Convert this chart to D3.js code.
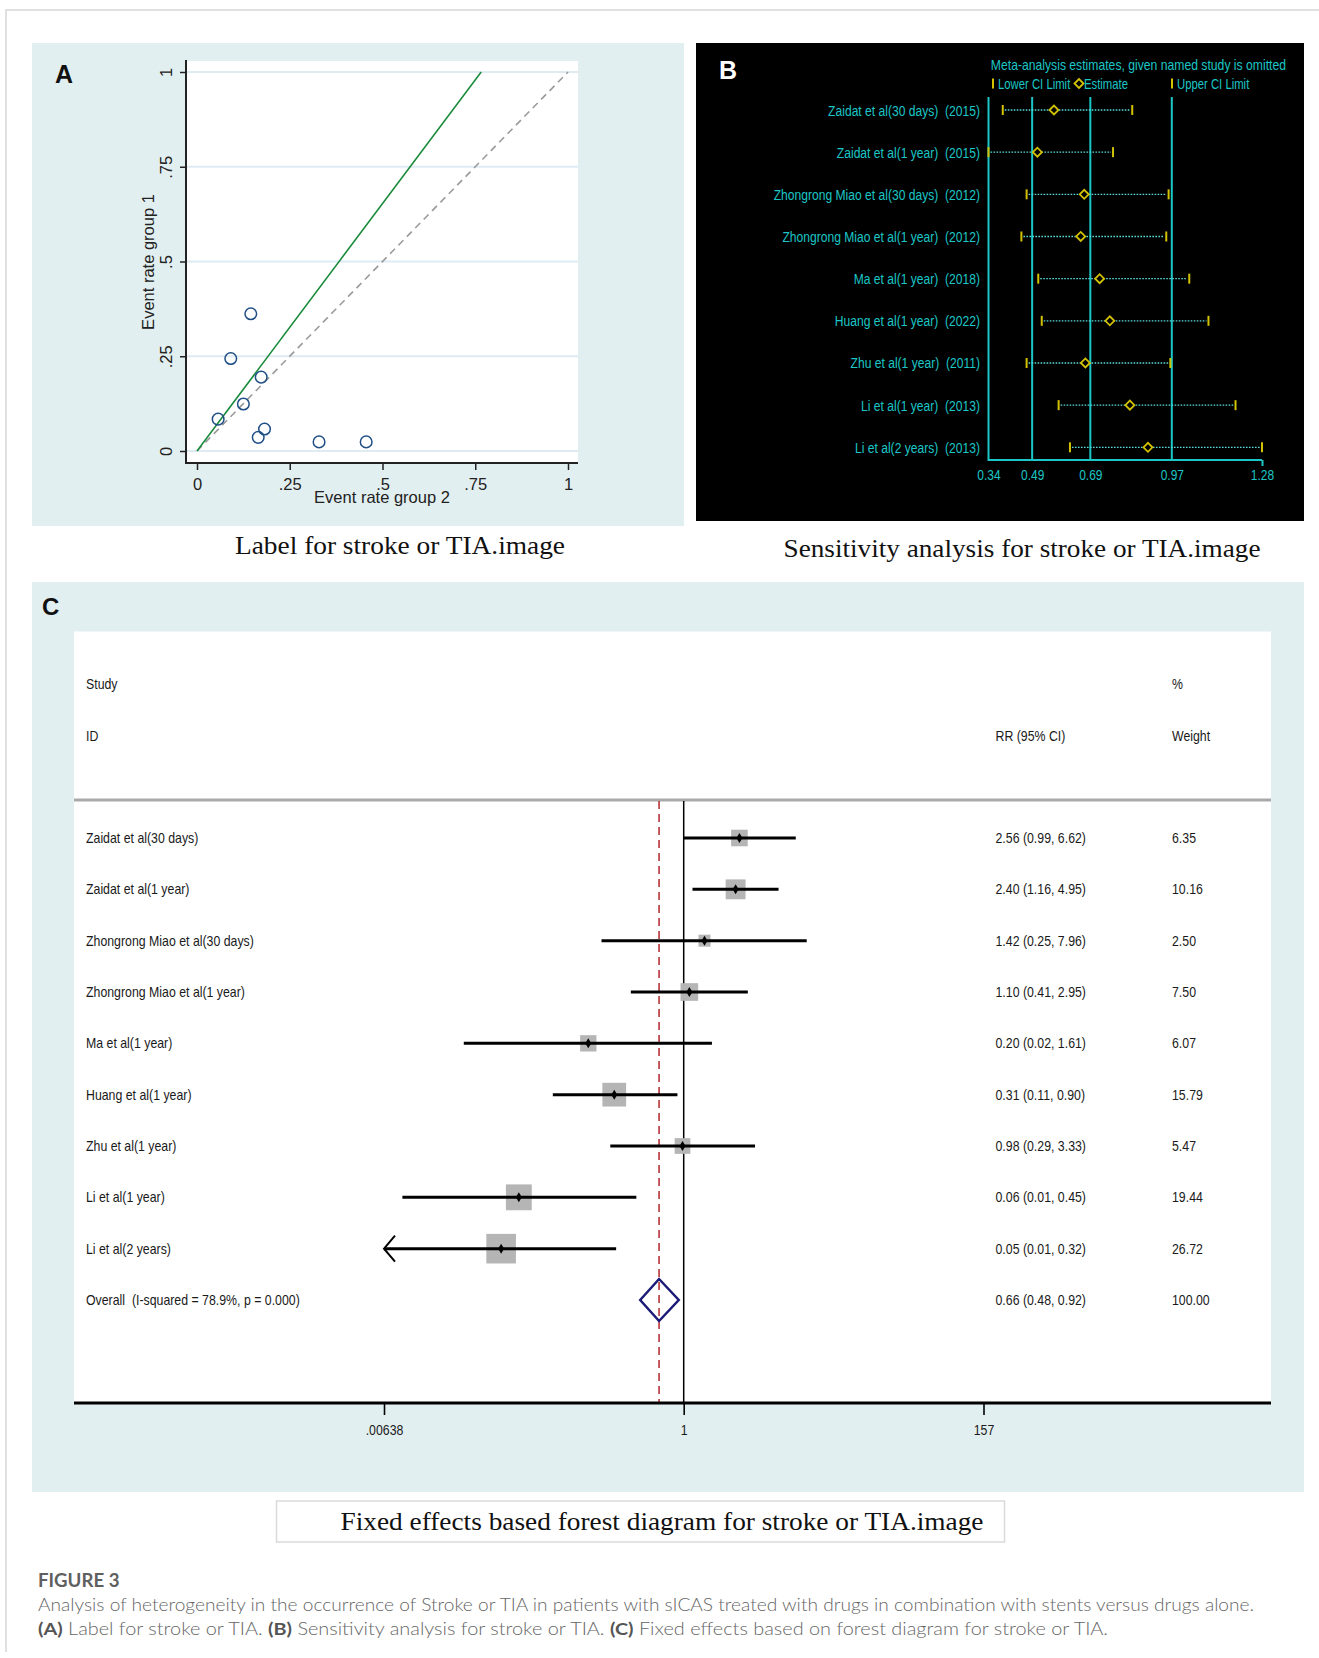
<!DOCTYPE html>
<html><head><meta charset="utf-8">
<script src="https://cdn.jsdelivr.net/npm/d3@7"></script>
<style>body{margin:0;background:#fff}svg{display:block}</style>
</head><body>
<svg id="fig" width="1319" height="1658"></svg>
<script>
// ---------------- DATA ----------------
// Panel A: L'Abbé plot (event rate group 2 on x, group 1 on y)
const labbeGroup2 = [0.145, 0.091, 0.173, 0.125, 0.057, 0.182, 0.165, 0.329, 0.456];
const labbeGroup1 = [0.362, 0.244, 0.195, 0.124, 0.084, 0.058, 0.036, 0.024, 0.024];
const labbeTicks = [0, 0.25, 0.5, 0.75, 1];
const labbeTickLabels = ["0", ".25", ".5", ".75", "1"];
const labbeFitEnd = [0.766, 1.0];      // fitted (pooled) line end point
const labbeNullEnd = [1.0, 1.0];       // line of equality end point

// Panel B: sensitivity analysis (study omitted)
const sensStudies = [
  "Zaidat et al(30 days)  (2015)", "Zaidat et al(1 year)  (2015)",
  "Zhongrong Miao et al(30 days)  (2012)", "Zhongrong Miao et al(1 year)  (2012)",
  "Ma et al(1 year)  (2018)", "Huang et al(1 year)  (2022)", "Zhu et al(1 year)  (2011)",
  "Li et al(1 year)  (2013)", "Li et al(2 years)  (2013)"];
const sensLower    = [0.389, 0.340, 0.471, 0.453, 0.511, 0.523, 0.471, 0.581, 0.620];
const sensEstimate = [0.565, 0.508, 0.669, 0.657, 0.722, 0.757, 0.673, 0.826, 0.888];
const sensUpper    = [0.834, 0.768, 0.959, 0.951, 1.030, 1.096, 0.965, 1.189, 1.280];
const sensTicks = [0.34, 0.49, 0.69, 0.97, 1.28];
const sensTickLabels = ["0.34", "0.49", "0.69", "0.97", "1.28"];
const sensRefLines = [0.34, 0.49, 0.69, 0.97];

// Panel C: fixed-effects forest plot
const forestStudies = ["Zaidat et al(30 days)", "Zaidat et al(1 year)", "Zhongrong Miao et al(30 days)",
  "Zhongrong Miao et al(1 year)", "Ma et al(1 year)", "Huang et al(1 year)", "Zhu et al(1 year)",
  "Li et al(1 year)", "Li et al(2 years)"];
const forestRR    = [2.56, 2.40, 1.42, 1.10, 0.20, 0.31, 0.98, 0.062, 0.046];
const forestLower = [0.99, 1.16, 0.25, 0.41, 0.0245, 0.11, 0.29, 0.0087, 0.0055];
const forestUpper = [6.62, 4.95, 7.96, 2.95, 1.61, 0.90, 3.33, 0.45, 0.32];
const forestCIText = ["2.56 (0.99, 6.62)", "2.40 (1.16, 4.95)", "1.42 (0.25, 7.96)", "1.10 (0.41, 2.95)",
  "0.20 (0.02, 1.61)", "0.31 (0.11, 0.90)", "0.98 (0.29, 3.33)", "0.06 (0.01, 0.45)", "0.05 (0.01, 0.32)"];
const forestWeight = [6.35, 10.16, 2.50, 7.50, 6.07, 15.79, 5.47, 19.44, 26.72];
const overallLabel = "Overall  (I-squared = 78.9%, p = 0.000)";
const overallRR = 0.66, overallLower = 0.48, overallUpper = 0.92;
const overallCIText = "0.66 (0.48, 0.92)";
const overallWeight = "100.00";
const forestTicks = [0.00638, 1, 157];
const forestTickLabels = [".00638", "1", "157"];

// ---------------- DRAWING ----------------
const svg = d3.select("#fig");
const SANS = "'Liberation Sans',Arial,sans-serif";
const NARROW = SANS;
const SERIF = "'Liberation Serif','Times New Roman',serif";
const PANEL_BG = "#e2eff0";
// horizontally condense text to mimic the narrow Stata font
function condense(sel, f) {
  sel.each(function () {
    const w = this.getComputedTextLength();
    d3.select(this).attr("textLength", w * f).attr("lengthAdjust", "spacingAndGlyphs");
  });
}

// outer frame
svg.append("path").attr("d", "M6,1652V10H1319").attr("fill", "none")
  .attr("stroke", "#d6d6d6").attr("stroke-width", 1.5);

// ===== Panel A =====
svg.append("rect").attr("x", 32).attr("y", 43).attr("width", 652).attr("height", 483).attr("fill", PANEL_BG);
svg.append("rect").attr("x", 186).attr("y", 61).attr("width", 392).attr("height", 402).attr("fill", "#fff");
const xA = d3.scaleLinear().domain([0, 1]).range([197, 568]);
const yA = d3.scaleLinear().domain([0, 1]).range([451, 72]);
const gA = svg.append("g");
gA.selectAll("line.grid").data(labbeTicks).join("line").attr("class", "grid")
  .attr("x1", 187).attr("x2", 578).attr("y1", d => yA(d)).attr("y2", d => yA(d))
  .attr("stroke", "#deebf3").attr("stroke-width", 2.2);
gA.append("line").attr("x1", xA(0)).attr("y1", yA(0)).attr("x2", xA(labbeNullEnd[0])).attr("y2", yA(labbeNullEnd[1]))
  .attr("stroke", "#9a9a9a").attr("stroke-width", 1.6).attr("stroke-dasharray", "7,5");
gA.append("line").attr("x1", xA(0)).attr("y1", yA(0)).attr("x2", xA(labbeFitEnd[0])).attr("y2", yA(labbeFitEnd[1]))
  .attr("stroke", "#1a8a3c").attr("stroke-width", 1.6);
gA.selectAll("circle.pt").data(labbeGroup2.map((d, i) => [d, labbeGroup1[i]])).join("circle")
  .attr("class", "pt").attr("cx", d => xA(d[0])).attr("cy", d => yA(d[1])).attr("r", 5.8)
  .attr("fill", "none").attr("stroke", "#1f4f86").attr("stroke-width", 1.5);
const axAL = d3.axisLeft(yA).tickValues(labbeTicks).tickFormat((d, i) => labbeTickLabels[i]).tickSize(6);
const gAL = gA.append("g").attr("transform", "translate(186,0)").call(axAL);
gAL.select(".domain").remove();
gAL.selectAll(".tick line").attr("stroke", "#222").attr("stroke-width", 1.5);
gAL.selectAll(".tick text").attr("transform", "rotate(-90)").attr("x", 0).attr("y", -14).attr("dy", 0)
  .attr("text-anchor", "middle").attr("font-family", SANS).attr("font-size", 16.5).attr("fill", "#222");
const axAB = d3.axisBottom(xA).tickValues(labbeTicks).tickFormat((d, i) => labbeTickLabels[i]).tickSize(7);
const gAB = gA.append("g").attr("transform", "translate(0,463)").call(axAB);
gAB.select(".domain").remove();
gAB.selectAll(".tick line").attr("stroke", "#222").attr("stroke-width", 1.5);
gAB.selectAll(".tick text").attr("y", 27).attr("dy", 0).attr("font-family", SANS).attr("font-size", 16.5).attr("fill", "#222");
gA.append("line").attr("x1", 186).attr("x2", 186).attr("y1", 60).attr("y2", 464).attr("stroke", "#222").attr("stroke-width", 2);
gA.append("line").attr("x1", 185).attr("x2", 578).attr("y1", 463).attr("y2", 463).attr("stroke", "#222").attr("stroke-width", 2);
gA.append("text").attr("transform", "translate(154,262) rotate(-90)").attr("text-anchor", "middle")
  .attr("font-family", SANS).attr("font-size", 16.5).attr("fill", "#222").text("Event rate group 1");
gA.append("text").attr("x", 382).attr("y", 503).attr("text-anchor", "middle")
  .attr("font-family", SANS).attr("font-size", 16.5).attr("fill", "#222").text("Event rate group 2");
gA.append("text").attr("x", 55).attr("y", 83).attr("font-family", SANS).attr("font-weight", "bold")
  .attr("font-size", 25).attr("fill", "#111").text("A");
svg.append("text").attr("x", 400).attr("y", 554).attr("text-anchor", "middle").attr("font-family", SERIF)
  .attr("font-size", 25).attr("fill", "#111").attr("textLength", 330).attr("lengthAdjust", "spacingAndGlyphs")
  .text("Label for stroke or TIA.image");

// ===== Panel B =====
const CYAN = "#1cc6c6", YEL = "#d2c200";
svg.append("rect").attr("x", 696).attr("y", 43).attr("width", 608).attr("height", 478).attr("fill", "#000");
const xB = d3.scaleLinear().domain([0.34, 1.28]).range([988.5, 1262]);
const yB = d3.scalePoint().domain(d3.range(sensStudies.length)).range([110, 447.3]);
const gB = svg.append("g");
gB.append("text").attr("x", 719).attr("y", 79).attr("font-family", SANS).attr("font-weight", "bold")
  .attr("font-size", 25).attr("fill", "#fff").text("B");
gB.selectAll("line.ref").data(sensRefLines).join("line").attr("class", "ref")
  .attr("x1", d => xB(d)).attr("x2", d => xB(d)).attr("y1", 97).attr("y2", 461)
  .attr("stroke", CYAN).attr("stroke-width", 2);
const axB = d3.axisBottom(xB).tickValues(sensTicks).tickFormat((d, i) => sensTickLabels[i]).tickSize(6);
const gBA = gB.append("g").attr("transform", "translate(0,460)").call(axB);
gBA.select(".domain").attr("stroke", CYAN).attr("stroke-width", 2).attr("d", `M${xB(0.34)},0H${xB(1.28)}`);
gBA.selectAll(".tick line").attr("stroke", CYAN).attr("stroke-width", 2).attr("opacity", (d, i) => i === sensTicks.length - 1 ? 1 : 0);
gBA.selectAll(".tick text").attr("y", 20).attr("dy", 0).attr("font-family", NARROW).attr("font-size", 15).attr("fill", CYAN)
  .call(condense, 0.8);
const rowsB = gB.selectAll("g.row").data(d3.range(sensStudies.length)).join("g").attr("class", "row")
  .attr("transform", i => `translate(0,${yB(i)})`);
rowsB.append("line").attr("x1", i => xB(sensLower[i]) + 2).attr("x2", i => xB(sensUpper[i]) - 2)
  .attr("y1", 0).attr("y2", 0).attr("stroke", "#5cdada").attr("stroke-width", 1.3).attr("stroke-dasharray", "1.6,1.4");
rowsB.append("line").attr("x1", i => xB(sensLower[i])).attr("x2", i => xB(sensLower[i])).attr("y1", -5).attr("y2", 5)
  .attr("stroke", YEL).attr("stroke-width", 2);
rowsB.append("line").attr("x1", i => xB(sensUpper[i])).attr("x2", i => xB(sensUpper[i])).attr("y1", -5).attr("y2", 5)
  .attr("stroke", YEL).attr("stroke-width", 2);
rowsB.append("path").attr("d", i => { const x = xB(sensEstimate[i]); return `M${x - 4.5},0L${x},-4.5L${x + 4.5},0L${x},4.5Z`; })
  .attr("fill", "#000").attr("stroke", YEL).attr("stroke-width", 1.8);
rowsB.append("text").attr("x", 980).attr("y", 5.5).attr("text-anchor", "end").attr("font-family", NARROW)
  .attr("font-size", 15.5).attr("fill", CYAN).style("white-space", "pre")
  .text(i => sensStudies[i]).call(condense, 0.78);
// header / legend
gB.append("text").attr("x", 1286).attr("y", 70).attr("text-anchor", "end").attr("font-family", NARROW)
  .attr("font-size", 14.5).attr("fill", CYAN).text("Meta-analysis estimates, given named study is omitted").call(condense, 0.84);
gB.append("line").attr("x1", 993).attr("x2", 993).attr("y1", 78.5).attr("y2", 88.5).attr("stroke", YEL).attr("stroke-width", 2);
gB.append("text").attr("x", 998).attr("y", 88.5).attr("font-family", NARROW).attr("font-size", 14.5).attr("fill", CYAN)
  .text("Lower CI Limit").call(condense, 0.78);
gB.append("path").attr("d", "M1074.5,83.5L1079,79L1083.5,83.5L1079,88Z").attr("fill", "none").attr("stroke", YEL).attr("stroke-width", 1.8);
gB.append("text").attr("x", 1084).attr("y", 88.5).attr("font-family", NARROW).attr("font-size", 14.5).attr("fill", CYAN)
  .text("Estimate").call(condense, 0.78);
gB.append("line").attr("x1", 1172).attr("x2", 1172).attr("y1", 78.5).attr("y2", 88.5).attr("stroke", YEL).attr("stroke-width", 2);
gB.append("text").attr("x", 1177).attr("y", 88.5).attr("font-family", NARROW).attr("font-size", 14.5).attr("fill", CYAN)
  .text("Upper CI Limit").call(condense, 0.78);
svg.append("text").attr("x", 1022).attr("y", 557).attr("text-anchor", "middle").attr("font-family", SERIF)
  .attr("font-size", 25).attr("fill", "#111").attr("textLength", 477).attr("lengthAdjust", "spacingAndGlyphs")
  .text("Sensitivity analysis for stroke or TIA.image");

// ===== Panel C =====
svg.append("rect").attr("x", 32).attr("y", 582).attr("width", 1272).attr("height", 910).attr("fill", PANEL_BG);
svg.append("rect").attr("x", 74).attr("y", 631.5).attr("width", 1197).attr("height", 772).attr("fill", "#fff");
const xC = d3.scaleLog().domain([forestTicks[0], forestTicks[2]]).range([384, 983.5]);
const yC = d3.scalePoint().domain(d3.range(forestStudies.length + 1)).range([838, 1300]);
const gC = svg.append("g");
const TXT = "#1a1a1a";
const CF = 0.85;
gC.append("text").attr("x", 42).attr("y", 615).attr("font-family", SANS).attr("font-weight", "bold")
  .attr("font-size", 24).attr("fill", "#111").text("C");
const hdr = [["Study", 86, 689], ["ID", 86, 741], ["RR (95% CI)", 995.5, 741], ["%", 1172, 689], ["Weight", 1172, 741]];
gC.selectAll("text.hdr").data(hdr).join("text").attr("class", "hdr").attr("x", d => d[1]).attr("y", d => d[2])
  .attr("font-family", NARROW).attr("font-size", 14.5).attr("fill", TXT).text(d => d[0]).call(condense, CF);
gC.append("line").attr("x1", 74).attr("x2", 1271).attr("y1", 800).attr("y2", 800).attr("stroke", "#a9a9a9").attr("stroke-width", 3);
gC.append("line").attr("x1", xC(1)).attr("x2", xC(1)).attr("y1", 801).attr("y2", 1403).attr("stroke", "#000").attr("stroke-width", 1.5);
gC.append("line").attr("x1", xC(overallRR)).attr("x2", xC(overallRR)).attr("y1", 801).attr("y2", 1403)
  .attr("stroke", "#b3262c").attr("stroke-width", 1.5).attr("stroke-dasharray", "8,5");
const xMin = xC.domain()[0];
const boxSide = w => 4.25 + 4.9 * Math.sqrt(w);
const rowsC = gC.selectAll("g.frow").data(d3.range(forestStudies.length)).join("g").attr("class", "frow")
  .attr("transform", i => `translate(0,${yC(i)})`);
rowsC.append("rect").attr("x", i => xC(forestRR[i]) - boxSide(forestWeight[i]) / 2)
  .attr("y", i => -boxSide(forestWeight[i]) / 2)
  .attr("width", i => boxSide(forestWeight[i])).attr("height", i => boxSide(forestWeight[i]))
  .attr("fill", "#b5b5b5");
rowsC.append("line").attr("x1", i => xC(Math.max(forestLower[i], xMin))).attr("x2", i => xC(forestUpper[i]))
  .attr("y1", 0).attr("y2", 0).attr("stroke", "#000").attr("stroke-width", 3);
rowsC.filter(i => forestLower[i] < xMin).append("path")
  .attr("d", `M${xC(xMin) + 11},-13L${xC(xMin)},0L${xC(xMin) + 11},13`)
  .attr("fill", "none").attr("stroke", "#000").attr("stroke-width", 2);
rowsC.append("path").attr("d", i => { const x = xC(forestRR[i]); return `M${x - 3},0L${x},-5L${x + 3},0L${x},5Z`; })
  .attr("fill", "#000");
rowsC.append("text").attr("x", 86).attr("y", 5).attr("font-family", NARROW).attr("font-size", 14.5).attr("fill", TXT)
  .text(i => forestStudies[i]).call(condense, CF);
rowsC.append("text").attr("x", 995.5).attr("y", 5).attr("font-family", NARROW).attr("font-size", 14.5).attr("fill", TXT)
  .text(i => forestCIText[i]).call(condense, CF);
rowsC.append("text").attr("x", 1172).attr("y", 5).attr("font-family", NARROW).attr("font-size", 14.5).attr("fill", TXT)
  .text(i => forestWeight[i].toFixed(2)).call(condense, CF);
// overall
const yO = yC(forestStudies.length);
gC.append("path").attr("d", `M${xC(overallLower)},${yO}L${xC(overallRR)},${yO - 21}L${xC(overallUpper)},${yO}L${xC(overallRR)},${yO + 21}Z`)
  .attr("fill", "none").attr("stroke", "#1c1c78").attr("stroke-width", 2.5);
gC.append("text").attr("x", 86).attr("y", yO + 5).attr("font-family", NARROW).attr("font-size", 14.5).attr("fill", TXT)
  .style("white-space", "pre").text(overallLabel).call(condense, CF);
gC.append("text").attr("x", 995.5).attr("y", yO + 5).attr("font-family", NARROW).attr("font-size", 14.5).attr("fill", TXT)
  .text(overallCIText).call(condense, CF);
gC.append("text").attr("x", 1172).attr("y", yO + 5).attr("font-family", NARROW).attr("font-size", 14.5).attr("fill", TXT)
  .text(overallWeight).call(condense, CF);
// axis
const axC = d3.axisBottom(xC).tickValues(forestTicks).tickFormat((d, i) => forestTickLabels[i]).tickSize(12);
const gCA = gC.append("g").attr("transform", "translate(0,1403)").call(axC);
gCA.select(".domain").attr("d", "M74,0H1271").attr("stroke", "#000").attr("stroke-width", 3);
gCA.selectAll(".tick line").attr("stroke", "#000").attr("stroke-width", 1.6);
gCA.selectAll(".tick text").attr("y", 32).attr("dy", 0).attr("font-family", NARROW).attr("font-size", 14.5).attr("fill", TXT)
  .call(condense, CF);
// caption box
svg.append("rect").attr("x", 276.5).attr("y", 1501).attr("width", 728).attr("height", 41)
  .attr("fill", "#fff").attr("stroke", "#dadada").attr("stroke-width", 1.5);
svg.append("text").attr("x", 662).attr("y", 1530).attr("text-anchor", "middle").attr("font-family", SERIF)
  .attr("font-size", 26).attr("fill", "#111").attr("textLength", 643).attr("lengthAdjust", "spacingAndGlyphs")
  .text("Fixed effects based forest diagram for stroke or TIA.image");

// ===== Figure caption =====
const CAPF = "Lato,'Open Sans','Noto Sans',sans-serif";
svg.append("text").attr("x", 38).attr("y", 1587).attr("font-family", CAPF).attr("font-weight", 700)
  .attr("font-size", 18.5).attr("fill", "#5f5f5f").attr("textLength", 81.5).attr("lengthAdjust", "spacingAndGlyphs").text("FIGURE 3");
svg.append("text").attr("x", 38).attr("y", 1611).attr("font-family", CAPF).attr("font-weight", 300)
  .attr("font-size", 17.5).attr("fill", "#666").attr("textLength", 1216).attr("lengthAdjust", "spacingAndGlyphs")
  .text("Analysis of heterogeneity in the occurrence of Stroke or TIA in patients with sICAS treated with drugs in combination with stents versus drugs alone.");
const cap3 = svg.append("text").attr("x", 38).attr("y", 1635).attr("font-family", CAPF).attr("font-weight", 300)
  .attr("font-size", 17.5).attr("fill", "#666").attr("textLength", 1070).attr("lengthAdjust", "spacingAndGlyphs");
[["(A)", true], [" Label for stroke or TIA. ", false], ["(B)", true], [" Sensitivity analysis for stroke or TIA. ", false],
 ["(C)", true], [" Fixed effects based on forest diagram for stroke or TIA.", false]].forEach(([t, b]) => {
  cap3.append("tspan").attr("font-weight", b ? 700 : 300).attr("fill", b ? "#555" : "#666").text(t);
});
</script></body></html>
